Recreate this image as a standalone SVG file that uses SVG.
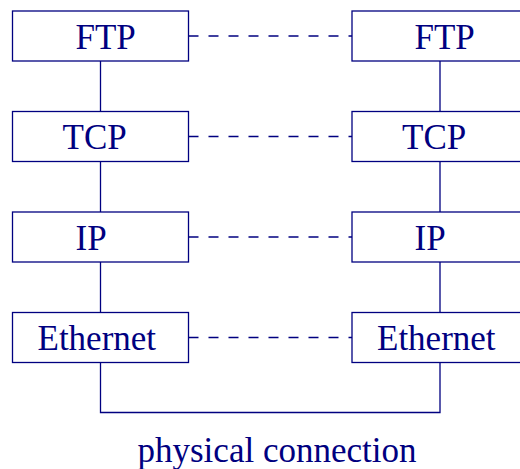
<svg xmlns="http://www.w3.org/2000/svg" width="520" height="469" viewBox="0 0 520 469">
<style>
.box{fill:#fff;stroke:#000080;stroke-width:1.3}
.lbl{font-family:"Liberation Serif","Times New Roman",serif;font-size:35px;fill:#000080}
.ln{stroke:#000080;stroke-width:1.3;fill:none}
.dash{stroke:#000080;stroke-width:1.3;stroke-dasharray:10,10;fill:none}
</style>
<rect width="520" height="469" fill="#fff"/>
<g id="connectors">
<path class="ln" d="M100.5 61V111.5M100.5 161.5V212M100.5 262V312.5M440 61V111.5M440 161.5V212M440 262V312.5"/>
<path class="ln" d="M100.5 362.5V412.5H440V362.5"/>
<path class="dash" d="M188.5 36H352M188.5 136.5H352M188.5 237H352M188.5 337.5H352"/>
</g>
<g id="ftp-left"><rect class="box" x="12.5" y="11" width="176" height="50"/><text class="lbl" x="75.5" y="49">FTP</text></g>
<g id="tcp-left"><rect class="box" x="12.5" y="111.5" width="176" height="50"/><text class="lbl" x="62.5" y="149">TCP</text></g>
<g id="ip-left"><rect class="box" x="12.5" y="212" width="176" height="50"/><text class="lbl" x="75.5" y="250">IP</text></g>
<g id="eth-left"><rect class="box" x="12.5" y="312.5" width="176" height="50"/><text class="lbl" x="37.5" y="349.5">Ethernet</text></g>
<g id="ftp-right"><rect class="box" x="352" y="11" width="176" height="50"/><text class="lbl" x="414.5" y="49">FTP</text></g>
<g id="tcp-right"><rect class="box" x="352" y="111.5" width="176" height="50"/><text class="lbl" x="402" y="149">TCP</text></g>
<g id="ip-right"><rect class="box" x="352" y="212" width="176" height="50"/><text class="lbl" x="414.5" y="250">IP</text></g>
<g id="eth-right"><rect class="box" x="352" y="312.5" width="176" height="50"/><text class="lbl" x="377" y="349.5">Ethernet</text></g>
<text class="lbl" x="137.5" y="462">physical connection</text>
</svg>
